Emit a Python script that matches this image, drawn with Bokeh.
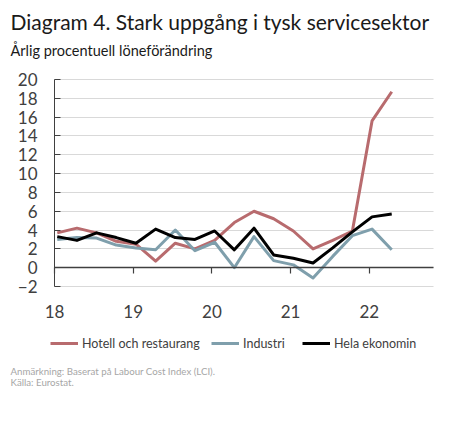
from bokeh.plotting import figure
from bokeh.models import Range1d, FixedTicker, Label, Legend, LegendItem
from bokeh.embed import file_html
from bokeh.resources import INLINE

# Quarterly wage growth, percent year on year
quarters = ["2018K1", "2018K2", "2018K3", "2018K4",
            "2019K1", "2019K2", "2019K3", "2019K4",
            "2020K1", "2020K2", "2020K3", "2020K4",
            "2021K1", "2021K2", "2021K3", "2021K4",
            "2022K1", "2022K2"]
hotell = [3.7, 4.2, 3.7, 2.8, 2.5, 0.7, 2.6, 2.0, 2.9, 4.8, 6.0, 5.2,
          3.9, 2.0, 2.9, 3.9, 15.6, 18.7]
industri = [3.0, 3.2, 3.15, 2.4, 2.1, 1.9, 4.0, 1.8, 2.7, 0.0, 3.3, 0.75,
            0.3, -1.1, 1.2, 3.4, 4.1, 1.9]
hela = [3.3, 2.9, 3.7, 3.2, 2.6, 4.1, 3.2, 3.0, 3.9, 1.9, 4.2, 1.35,
        1.0, 0.5, 2.1, 3.8, 5.4, 5.7]

years = [2018, 2019, 2020, 2021, 2022]
year_labels = {2018: "18", 2019: "19", 2020: "20", 2021: "21", 2022: "22"}
y_ticks = [-2, 0, 2, 4, 6, 8, 10, 12, 14, 16, 18, 20]

series_names = ["Hotell och restaurang", "Industri", "Hela ekonomin"]
series_colors = ["#b86b6e", "#7f9fac", "#000000"]

FONT = "Lato"
TEXT = "#404040"
OFFSET = 0.035  # each quarter is plotted just after its start

def quarter_pos(q):
    return int(q[:4]) + (int(q[-1]) - 1) / 4 + OFFSET

xs = [quarter_pos(q) for q in quarters]

# canvas geometry: the plot area runs from x=54..433 px and y=79..286 px
W, H = 474, 437
PX_LEFT, PX_RIGHT, PX_TOP, PX_BOTTOM = 54, 433, 79, 286
px_per_year = 78.7
px_per_unit = (PX_BOTTOM - PX_TOP) / (y_ticks[-1] - y_ticks[0])
x0, y_top = 2018, 20
x_end = x0 + (PX_RIGHT - PX_LEFT) / px_per_year

p = figure(width=W, height=H, output_backend="svg", toolbar_location=None,
           x_range=Range1d(x0 - PX_LEFT / px_per_year, x0 + (W - PX_LEFT) / px_per_year),
           y_range=Range1d(y_top - (H - PX_TOP) / px_per_unit, y_top + PX_TOP / px_per_unit),
           min_border=0)
p.outline_line_color = None
p.background_fill_color = "white"
p.border_fill_color = "white"

p.xgrid.visible = False
p.ygrid.ticker = FixedTicker(ticks=y_ticks)
p.ygrid.grid_line_color = "#d9d9d9"
p.ygrid.grid_line_width = 1.2
p.ygrid.cross_bounds = (x0, x_end)

# y axis: ticks pointing into the plot
yax = p.yaxis[0]
yax.fixed_location = x0
yax.bounds = (y_ticks[0], y_ticks[-1])
yax.ticker = FixedTicker(ticks=y_ticks)
yax.axis_line_color = TEXT
yax.axis_line_width = 1
yax.major_tick_in = 6
yax.major_tick_out = 0
yax.major_tick_line_color = TEXT
yax.minor_tick_line_color = None
yax.major_label_text_font = FONT
yax.major_label_text_font_size = "17px"
yax.major_label_text_color = TEXT
yax.major_label_standoff = 17

# x axis along zero, year labels placed low
xax = p.xaxis[0]
xax.fixed_location = 0
xax.bounds = (x0, x_end)
xax.ticker = FixedTicker(ticks=years)
xax.major_label_overrides = year_labels
xax.axis_line_color = TEXT
xax.axis_line_width = 1.5
xax.major_tick_in = 0
xax.major_tick_out = 6
xax.major_tick_line_color = TEXT
xax.major_tick_line_width = 1.2
xax.minor_tick_line_color = None
xax.major_label_text_font = FONT
xax.major_label_text_font_size = "17px"
xax.major_label_text_color = TEXT
xax.major_label_standoff = 31

renderers = []
for vals, color in zip([hotell, industri, hela], series_colors):
    r = p.line(xs, vals, line_color=color, line_width=3, line_join="round")
    renderers.append(r)

# one legend entry per series, each anchored at its own left edge
legend_left = [50, 211, 302]
for name, r, lx in zip(series_names, renderers, legend_left):
    p.add_layout(Legend(items=[LegendItem(label=name, renderers=[r])],
                        orientation="horizontal", location=(lx, H - 351),
                        glyph_width=28, glyph_height=16, label_height=16,
                        label_standoff=4, padding=0, margin=0,
                        border_line_color=None, background_fill_alpha=0,
                        label_text_font=FONT, label_text_font_size="12.5px",
                        label_text_color=TEXT))

def add_text(text, x, baseline, size, color):
    p.add_layout(Label(x=x, y=H - baseline, x_units="screen", y_units="screen",
                       text=text, text_font=FONT, text_font_size=size,
                       text_color=color, text_baseline="alphabetic"))

add_text("Diagram 4. Stark uppgång i tysk servicesektor", 10, 21, "21px", "#1a1a1a")
add_text("Årlig procentuell löneförändring", 10, 50, "14.5px", "#1a1a1a")
add_text("Anmärkning: Baserat på Labour Cost Index (LCI).", 10, 370, "9.7px", "#a6a6a6")
add_text("Källa: Eurostat.", 10, 381, "9.7px", "#a6a6a6")

open("out.html", "w").write(file_html(p, INLINE))
